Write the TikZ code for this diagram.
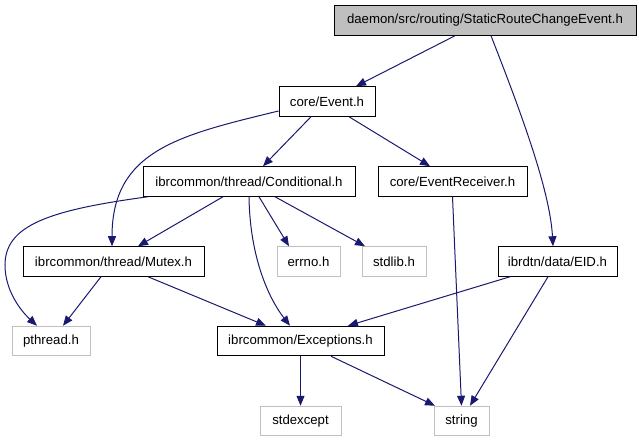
\documentclass[tikz,border=0pt]{standalone}
\usepackage{fontspec}
\setmainfont{Liberation Sans}
\usetikzlibrary{arrows.meta}
\definecolor{edgeblue}{HTML}{191970}
\definecolor{sysgray}{HTML}{BFBFBF}
\begin{document}
\begin{tikzpicture}[x=1pt,y=-1pt,
  box/.style={draw=black,line width=1pt,inner sep=0pt,minimum height=29.5pt,font=\fontsize{13.2}{15}\selectfont,anchor=center},
  sysbox/.style={box,draw=sysgray},
  mainbox/.style={box,fill=sysgray},
  edge/.style={draw=edgeblue,line width=1pt,-{Triangle[length=10pt,width=8pt]}}]
\useasboundingbox (0,0) rectangle (639,443);
\node[mainbox,minimum width=302pt] (main) at (485,20.5) {daemon/src/routing/StaticRouteChangeEvent.h};
\node[box,minimum width=96pt] (event) at (327,101.5) {core/Event.h};
\node[box,minimum width=212pt] (cond) at (249,181.5) {ibrcommon/thread/Conditional.h};
\node[box,minimum width=149pt] (recv) at (452.5,181.5) {core/EventReceiver.h};
\node[box,minimum width=181pt] (mutex) at (113.5,261.5) {ibrcommon/thread/Mutex.h};
\node[sysbox,minimum width=63pt] (errno) at (308.5,261.5) {errno.h};
\node[sysbox,minimum width=64pt] (stdlib) at (394,261.5) {stdlib.h};
\node[box,minimum width=119pt] (eid) at (557.5,261.5) {ibrdtn/data/EID.h};
\node[sysbox,minimum width=78pt] (pthread) at (51,341) {pthread.h};
\node[box,minimum width=167pt] (exc) at (300.5,341) {ibrcommon/Exceptions.h};
\node[sysbox,minimum width=81pt] (stdexcept) at (300.5,421) {stdexcept};
\node[sysbox,minimum width=55pt] (string) at (461.5,421) {string};

\draw[edge] ([xshift=-30pt]main.south) -- ([xshift=29pt]event.north);
\draw[edge] ([xshift=6pt]main.south) .. controls (520,110) and (550,190) .. ([xshift=-4.5pt]eid.north);
\draw[edge] ([xshift=-16pt]event.south) -- ([xshift=14pt]cond.north);
\draw[edge] ([xshift=22pt]event.south) -- ([xshift=-22.5pt]recv.north);
\draw[edge] ([yshift=-9.5pt]event.west) .. controls (180,135) and (112,150) .. ([xshift=-1.5pt]mutex.north);
\draw[edge] ([xshift=-26pt]cond.south) -- ([xshift=24.5pt]mutex.north);
\draw[edge] ([xshift=-101pt]cond.south) .. controls (50,210) and (5,225) .. (5,265) .. controls (5,290) and (20,310) .. ([xshift=-14pt]pthread.north);
\draw[edge] ([xshift=10pt]cond.south) -- ([xshift=-19.5pt]errno.north);
\draw[edge] ([xshift=26pt]cond.south) -- ([xshift=-29pt]stdlib.north);
\draw[edge] (cond.south) .. controls (250,260) and (270,300) .. ([xshift=-10.5pt]exc.north);
\draw[edge] ([xshift=-12.5pt]mutex.south) -- ([xshift=12pt]pthread.north);
\draw[edge] ([xshift=34.5pt]mutex.south) -- ([xshift=-34.5pt]exc.north);
\draw[edge] (recv.south) -- (string.north);
\draw[edge] ([xshift=-47.5pt]eid.south) -- ([xshift=47.5pt]exc.north);
\draw[edge] ([xshift=-9.5pt]eid.south) -- ([xshift=8.5pt]string.north);
\draw[edge] (exc.south) -- (stdexcept.north);
\draw[edge] ([xshift=30.5pt]exc.south) -- ([xshift=-26.5pt]string.north);
\end{tikzpicture}
\end{document}
